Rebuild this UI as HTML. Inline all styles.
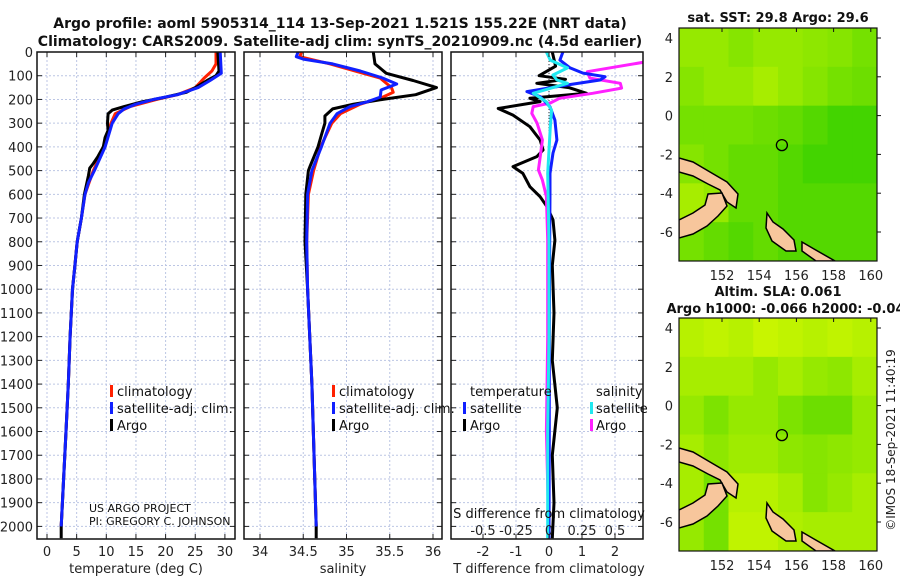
<!DOCTYPE html>
<html><head><meta charset="utf-8">
<style>
html,body{margin:0;padding:0;background:#fff;}
svg{display:block;font-family:"DejaVu Sans","Liberation Sans",sans-serif;}
</style></head>
<body>
<svg id="fig" width="900" height="580" viewBox="0 0 900 580" xmlns="http://www.w3.org/2000/svg">
<defs>
<clipPath id="c1"><rect x="37" y="52" width="198" height="487"/></clipPath>
<clipPath id="c2"><rect x="244" y="52" width="198" height="487"/></clipPath>
<clipPath id="c3"><rect x="451" y="52" width="192" height="487"/></clipPath>
<clipPath id="cm1"><rect x="679" y="28" width="198" height="233"/></clipPath>
<clipPath id="cm2"><rect x="679" y="318" width="198" height="233"/></clipPath>
</defs>
<g font-weight="bold" font-size="14" text-anchor="middle" fill="#111">
<text x="340" y="28">Argo profile: aoml 5905314_114 13-Sep-2021 1.521S 155.22E (NRT data)</text>
<text x="340" y="46">Climatology: CARS2009. Satellite-adj clim: synTS_20210909.nc (4.5d earlier)</text>
</g>
<g id="grids"></g>
<g id="marks"></g>
<g id="frames"></g>
<g id="labels" font-size="13" fill="#222"></g>
<g id="legends" font-size="13" fill="#111">
<g>
<rect x="110" y="385" width="3" height="12" fill="#ff2000"/><text x="117" y="396">climatology</text>
<rect x="110" y="402" width="3" height="12" fill="#1020ff"/><text x="117" y="413">satellite-adj. clim.</text>
<rect x="110" y="419" width="3" height="12" fill="#000"/><text x="117" y="430">Argo</text>
</g>
<g>
<rect x="332" y="385" width="3" height="12" fill="#ff2000"/><text x="339" y="396">climatology</text>
<rect x="332" y="402" width="3" height="12" fill="#1020ff"/><text x="339" y="413">satellite-adj. clim.</text>
<rect x="332" y="419" width="3" height="12" fill="#000"/><text x="339" y="430">Argo</text>
</g>
<g>
<text x="470" y="396">temperature</text>
<rect x="463" y="402" width="3" height="12" fill="#1020ff"/><text x="470" y="413">satellite</text>
<rect x="463" y="419" width="3" height="12" fill="#000"/><text x="470" y="430">Argo</text>
<text x="596" y="396">salinity</text>
<rect x="590" y="402" width="3" height="12" fill="#20e8f0"/><text x="596" y="413">satellite</text>
<rect x="590" y="419" width="3" height="12" fill="#ff20ff"/><text x="596" y="430">Argo</text>
</g>
<g font-size="11">
<text x="89" y="512">US ARGO PROJECT</text>
<text x="89" y="525">PI: GREGORY C. JOHNSON</text>
</g>
<text x="549" y="518" text-anchor="middle">S difference from climatology</text>
</g>
<g id="maps"></g>
<g font-weight="bold" font-size="13" text-anchor="middle" fill="#111">
<text x="778" y="22">sat. SST: 29.8 Argo: 29.6</text>
<text x="778" y="296">Altim. SLA: 0.061</text>
<text x="790" y="313">Argo h1000: -0.066 h2000: -0.047</text>
</g>
<text x="0" y="0" font-size="12" fill="#222" text-anchor="middle" transform="translate(895,440) rotate(-90)">©IMOS 18-Sep-2021 11:40:19</text>
</svg>
<script>
// ---- data ----
const depthTicks=[0,100,200,300,400,500,600,700,800,900,1000,1100,1200,1300,1400,1500,1600,1700,1800,1900,2000];
const tempTicks=[0,5,10,15,20,25,30];
const salTicks=[34,34.5,35,35.5,36];
const salTickLabels=["34","34.5","35","35.5","36"];
const dTTicks=[-2,-1,0,1,2];
const dSTicks=[-0.5,-0.25,0,0.25,0.5];
const dSTickLabels=["-0.5","-0.25","0","0.25","0.5"];

const tArgoDepth=[0,80,100,120,150,170,190,210,230,245,260,300,330,360,400,440,470,490,520,600,700,800,900,1000,1200,1400,1600,1800,2000,2050];
const tArgo=[28.8,29,28.5,27,25,23.5,20,16,13,11,10.3,10.2,10.3,9.8,9.5,8.6,7.8,7.2,7,6.3,5.8,5.1,4.7,4.3,3.9,3.6,3.2,2.8,2.4,2.4];
const tSatDepth=[0,90,120,150,180,200,220,240,260,300,400,500,550,600,700,800,900,1000,1200,1400,1600,1800,2000];
const tSat=[29.2,29.4,27.5,25.5,22,18,15,13,12,11,9.8,8,7,6.4,5.8,5.1,4.7,4.3,3.9,3.6,3.2,2.8,2.4];
const tClimDepth=[0,50,80,110,150,180,200,230,260,300,400,500,600,700,800,900,1000,1200,1400,1600,1800,2000];
const tClim=[28.5,28.5,27.8,26.5,25,22,18.5,14,11.5,10.8,9.7,7.8,6.4,5.8,5.1,4.7,4.3,3.9,3.6,3.2,2.8,2.4];

const sArgoDepth=[0,50,90,120,150,180,200,220,240,270,300,350,400,480,500,600,800,1000,1400,2000,2050];
const sArgo=[35.31,35.33,35.46,35.77,36.04,35.8,35.42,35.08,34.84,34.75,34.75,34.71,34.67,34.58,34.56,34.53,34.52,34.55,34.6,34.65,34.65];
const sSatDepth=[0,20,30,50,80,110,135,160,190,210,230,260,300,400,500,600,800,1000,1400,2000];
const sSat=[34.44,34.42,34.5,34.84,35.16,35.42,35.58,35.4,35.39,35.24,35.04,34.89,34.81,34.71,34.6,34.55,34.54,34.55,34.6,34.65];
const sClimDepth=[0,20,50,80,110,150,170,190,220,260,300,400,500,600,800,1000,1400,2000];
const sClim=[34.48,34.46,34.81,35.1,35.39,35.52,35.54,35.42,35.16,34.93,34.83,34.7,34.62,34.56,34.54,34.55,34.6,34.65];

const dTArgoDepth=[0,60,100,115,132,150,174,195,209,238,266,315,371,413,441,483,512,568,610,652,708,793,900,1100,1300,1500,1700,1900,2050];
const dTArgo=[0.1,0.2,-0.3,0.5,-0.37,0.6,1.14,-0.58,-0.27,-1.54,-1.09,-0.58,-0.27,-0.18,-0.37,-1.09,-0.79,-0.58,-0.27,-0.06,0.12,0.18,0.1,0.15,0.1,0.25,0.1,0.15,0.1];
const dTSatDepth=[0,34,67,89,104,118,139,167,188,231,287,371,426,512,595,800,1200,1600,2050];
const dTSat=[0.42,0.33,0.64,1.03,1.7,1.55,0.55,-0.67,-0.27,0.03,0.18,0.24,0.12,0.03,0.03,0.02,0.01,0.01,0.0];
const dSSatDepth=[0,34,67,97,118,132,174,210,245,316,512,800,1200,1600,2050];
const dSSat=[-0.02,0.01,0.14,0.03,0.06,0.14,-0.12,-0.02,0.02,0.01,-0.01,0,0,-0.01,-0.01];
const dSArgoDepth=[0,30,41,83,110,132,152,174,195,215,230,259,300,371,455,497,540,610,793,1200,1600,2050];
const dSArgo=[0.95,0.85,0.74,0.29,0.31,0.54,0.55,0.33,0.08,0.01,-0.12,-0.13,-0.09,-0.05,-0.07,-0.08,-0.05,-0.02,-0.01,-0.01,-0.02,0];

const sstGrid=[[.3,.3,.4,.3,.3,.35,.4,.5],[.4,.3,.3,.2,.3,.4,.5,.55],[.5,.5,.5,.55,.6,.7,.8,.8],[.4,.5,.6,.6,.7,.8,.8,.8],[.2,.3,.6,.6,.7,.7,.7,.7],[.5,.6,.7,.6,.7,.7,.7,.7]];
const slaGrid=[[.1,.05,.1,0,.05,.1,.05,.1],[.2,.2,.2,.3,.2,.3,.35,.2],[.3,.45,.3,.3,.45,.55,.55,.3],[.2,.35,.25,.25,.35,.4,.35,.3],[.2,.5,.1,.1,.2,.4,.3,.2],[.3,.5,.05,.05,.15,.2,.2,.2]];
const mapLonTicks=[152,154,156,158,160];
const mapLatTicks=[4,2,0,-2,-4,-6];
const floatLon=155.22, floatLat=-1.521;

// ---- scales ----
const NS="http://www.w3.org/2000/svg";
const yD=d=>52+d*0.2372;
const xT=t=>47+t*5.93;
const xS=s=>260+(s-34)*86.5;
const xDT=v=>549+v*33;
const xDS=v=>549+v*132;
function mk(tag,attrs,parent){const e=document.createElementNS(NS,tag);for(const k in attrs)e.setAttribute(k,attrs[k]);(parent||document.getElementById('fig')).appendChild(e);return e;}
const grids=document.getElementById('grids'),marks=document.getElementById('marks'),frames=document.getElementById('frames'),labels=document.getElementById('labels'),maps=document.getElementById('maps');
const panels=[{x0:37,x1:235,xt:tempTicks.map(xT),clip:'c1'},{x0:244,x1:442,xt:salTicks.map(xS),clip:'c2'},{x0:451,x1:643,xt:dTTicks.map(xDT),clip:'c3'}];
const Y0=52,Y1=539;
panels.forEach((p,i)=>{
  depthTicks.forEach(d=>{const l=mk('line',{x1:p.x0,x2:p.x1,y1:yD(d),y2:yD(d),stroke:'#bcc6e4','stroke-width':1,'stroke-dasharray':'2,2'},grids);
    
    mk('line',{x1:p.x0,x2:p.x0+5,y1:yD(d),y2:yD(d),stroke:'#222'},frames);mk('line',{x1:p.x1-5,x2:p.x1,y1:yD(d),y2:yD(d),stroke:'#222'},frames);});
  p.xt.forEach(x=>{const l=mk('line',{x1:x,x2:x,y1:Y0,y2:Y1,stroke:'#bcc6e4','stroke-width':1,'stroke-dasharray':'2,2'},grids);
    
    mk('line',{x1:x,x2:x,y1:Y1-5,y2:Y1,stroke:'#222'},frames);mk('line',{x1:x,x2:x,y1:Y0,y2:Y0+5,stroke:'#222'},frames);});
  const r=mk('rect',{x:p.x0,y:Y0,width:p.x1-p.x0,height:Y1-Y0,fill:'none',stroke:'#111','stroke-width':1.5},frames);
  
  
});
mk('line',{x1:549,x2:549,y1:Y0,y2:Y1,stroke:'#333','stroke-dasharray':'1,2'},grids);
depthTicks.forEach(d=>{const t=mk('text',{x:33,y:yD(d)+5,'text-anchor':'end'},labels);t.textContent=d;
  });
function xl(arr,f,labs,y,name){arr.forEach((v,i)=>{const t=mk('text',{x:f(v),y:y,'text-anchor':'middle'},labels);t.textContent=labs?labs[i]:String(v);
  });}
xl(tempTicks,xT,null,556,'temperature-tick-label');
xl(salTicks,xS,salTickLabels,556,'salinity-tick-label');
xl(dTTicks,xDT,null,556,'t-difference-tick-label');
xl(dSTicks,xDS,dSTickLabels,535,'s-difference-tick-label');
[['temperature (deg C)',136],['salinity',343],['T difference from climatology',549]].forEach(([s,x])=>{const t=mk('text',{x:x,y:573,'text-anchor':'middle'},labels);t.textContent=s;
  });

function line(depths,vals,fx,color,clip,name){
  const pts=depths.map((d,i)=>fx(vals[i]).toFixed(1)+','+yD(d).toFixed(1)).join(' ');
  const e=mk('polyline',{points:pts,fill:'none',stroke:color,'stroke-width':3,'stroke-linejoin':'round','clip-path':'url(#'+clip+')'},marks);
  
  
}
line(tClimDepth,tClim,xT,'#ff2000','c1','temperature-climatology-line');
line(tArgoDepth,tArgo,xT,'#000','c1','temperature-argo-line');
line(tSatDepth,tSat,xT,'#1020ff','c1','temperature-satellite-line');
line(sClimDepth,sClim,xS,'#ff2000','c2','salinity-climatology-line');
line(sArgoDepth,sArgo,xS,'#000','c2','salinity-argo-line');
line(sSatDepth,sSat,xS,'#1020ff','c2','salinity-satellite-line');
line(dTArgoDepth,dTArgo,xDT,'#000','c3','t-difference-argo-line');
line(dSArgoDepth,dSArgo,xDS,'#ff20ff','c3','s-difference-argo-line');
line(dTSatDepth,dTSat,xDT,'#1020ff','c3','t-difference-satellite-line');
line(dSSatDepth,dSSat,xDS,'#20e8f0','c3','s-difference-satellite-line');

// ---- maps ----
function col(v){const a=[200,245,0],b=[34,204,0];return 'rgb('+a.map((c,i)=>Math.round(c+(b[i]-c)*v)).join(',')+')';}
function drawMap(grid,top,clip,name){
  const L=679,W=198,H=233;const g=mk('g',{'clip-path':'url(#'+clip+')'},maps);
  
  const cw=W/grid[0].length,ch=H/grid.length;
  grid.forEach((row,r)=>row.forEach((v,c)=>{const e=mk('rect',{x:L+c*cw,y:top+r*ch,width:cw+0.5,height:ch+0.5,fill:col(v)},g);
    }));
  const off=top-28;
  const lands=[[[679,158],[693,162],[710,172],[727,182],[738,194],[736,208],[727,202],[720,190],[708,184],[693,176],[679,172]],
    [[679,220],[693,213],[705,205],[708,194],[722,193],[727,206],[718,216],[707,226],[693,234],[679,238]],
    [[767,213],[773,222],[783,229],[794,240],[796,251],[786,251],[772,241],[766,228]],
    [[802,242],[814,249],[835,261],[816,261],[802,251]]];
  lands.forEach(p=>{const e=mk('polygon',{points:p.map(q=>q[0]+','+(q[1]+off)).join(' '),fill:'#f7c69c',stroke:'#000','stroke-width':1.5},g);
    });
  const lonX=lon=>722+(lon-152)*18.6, latY=lat=>232+off-(lat+6)*19.4;
  const c=mk('circle',{cx:lonX(floatLon),cy:latY(floatLat),r:5.5,fill:'none',stroke:'#000','stroke-width':1.3},g);
  
  const f=mk('rect',{x:L,y:top,width:W,height:H,fill:'none',stroke:'#111','stroke-width':1.2},maps);
  
  mapLonTicks.forEach(lon=>{const t=mk('text',{x:lonX(lon),y:top+H+19,'text-anchor':'middle','font-size':13,fill:'#222'},maps);t.textContent=lon;
    
    mk('line',{x1:lonX(lon),x2:lonX(lon),y1:top,y2:top+4,stroke:'#111'},maps);});
  mapLatTicks.forEach(lat=>{const t=mk('text',{x:673,y:latY(lat)+5,'text-anchor':'end','font-size':13,fill:'#222'},maps);t.textContent=lat;
    
    mk('line',{x1:L+W,x2:L+W+4,y1:latY(lat),y2:latY(lat),stroke:'#111'},maps);});
}
drawMap(sstGrid,28,'cm1','sst-map');
drawMap(slaGrid,318,'cm2','sla-map');
</script>
</body></html>
